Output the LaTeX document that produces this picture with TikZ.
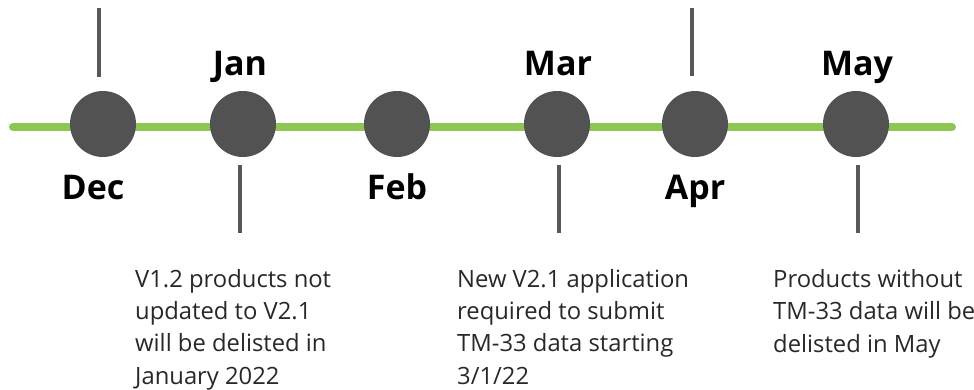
\documentclass[tikz,border=0pt]{standalone}
\usepackage{fontspec}
\setmainfont{Open Sans}
\definecolor{linegreen}{RGB}{141,198,83}
\definecolor{dotgray}{RGB}{82,82,82}
\definecolor{tickgray}{RGB}{88,88,88}
\definecolor{textgray}{RGB}{40,40,40}
\begin{document}
\begin{tikzpicture}[x=1pt,y=-1pt,
  dotc/.style={circle,fill=dotgray,minimum size=66pt,inner sep=0pt},
  month/.style={font=\fontsize{34}{40}\selectfont\bfseries,anchor=base,inner sep=0pt,text=black},
  note/.style={font=\fontsize{23.8}{32.3}\selectfont,align=left,anchor=base west,inner sep=0pt,text=textgray},
  tickline/.style={draw=tickgray,line width=4pt},
  axis/.style={draw=linegreen,line width=8pt,line cap=round}]
\useasboundingbox (0,0) rectangle (974,389);
\coordinate (L) at (13,127);
\coordinate (R) at (952,127);
\draw[axis] (L) -- (R);
% dots
\node[dotc] (dec) at (103,124) {};
\node[dotc] (jan) at (243,124) {};
\node[dotc] (feb) at (397,124) {};
\node[dotc] (mar) at (557,124) {};
\node[dotc] (apr) at (695,124) {};
\node[dotc] (may) at (856,124) {};
% ticks
\coordinate (decA) at (99,8);   \coordinate (decB) at (99,77);
\coordinate (janA) at (240,165); \coordinate (janB) at (240,233);
\coordinate (marA) at (559,165); \coordinate (marB) at (559,233);
\coordinate (aprA) at (692,8);   \coordinate (aprB) at (692,76);
\coordinate (mayA) at (858,165); \coordinate (mayB) at (858,233);
\draw[tickline] (decA) -- (decB);
\draw[tickline] (janA) -- (janB);
\draw[tickline] (marA) -- (marB);
\draw[tickline] (aprA) -- (aprB);
\draw[tickline] (mayA) -- (mayB);
% month labels
\node[month] (decl) at (93,199) {Dec};
\node[month] (janl) at (240,75) {Jan};
\node[month] (febl) at (397,199) {Feb};
\node[month] (marl) at (558,75) {Mar};
\node[month] (aprl) at (695,199) {Apr};
\node[month] (mayl) at (857,75) {May};
% notes (base anchor = baseline of last line)
\node[note] (n1) at (135,384) {V1.2 products not\\updated to V2.1\\will be delisted in\\January 2022};
\node[note] (n2) at (457,384) {New V2.1 application\\required to submit\\TM-33 data starting\\3/1/22};
\node[note] (n3) at (773,352) {Products without\\TM-33 data will be\\delisted in May};
\end{tikzpicture}
\end{document}
